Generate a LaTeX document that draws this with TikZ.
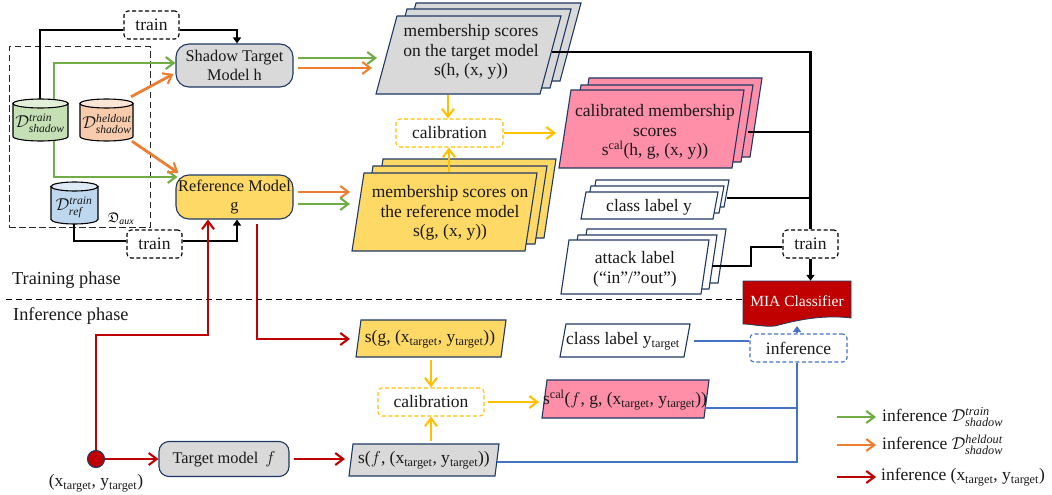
\documentclass[tikz,border=0pt]{standalone}
\usepackage{amssymb}
\usepackage{fontspec}
\setmainfont{Liberation Serif}
\usetikzlibrary{shapes.geometric,arrows.meta,calc}
\definecolor{edge}{HTML}{1F3864}
\definecolor{cgreen}{HTML}{70AD47}
\definecolor{corange}{HTML}{ED7D31}
\definecolor{cred}{HTML}{C00000}
\definecolor{cgold}{HTML}{FFC000}
\definecolor{cblue}{HTML}{4472C4}
\definecolor{fgrey}{HTML}{D9D9D9}
\definecolor{fyellow}{HTML}{FFD966}
\definecolor{fpink}{HTML}{FF8FA8}
\definecolor{cgb}{HTML}{C5E0B4}
\definecolor{cge}{HTML}{E2F0D9}
\definecolor{cob}{HTML}{F8CBAD}
\definecolor{coe}{HTML}{FBE5D6}
\definecolor{cbb}{HTML}{BDD7EE}
\definecolor{cbe}{HTML}{DEEBF7}
\tikzset{
  lbl/.style={inner sep=0pt,font=\fontsize{17.5}{19.8}\selectfont,align=center,text=black!90},
  mlbl/.style={inner sep=0pt,font=\fontsize{16.3}{18.5}\selectfont,align=center,text=black!90},
  mth/.style={inner sep=0pt,font=\fontsize{16.5}{18}\selectfont,text=black!90},
  wire/.style={line width=2.8pt,line cap=butt},
  tipo/.style={-{Straight Barb[length=8pt,width=12pt,line width=2.1pt]}},
  tipf/.style={-{Triangle[length=6pt,width=8pt]}},
  gw/.style={wire,cgreen,tipo},
  ow/.style={wire,corange,tipo},
  rw/.style={wire,cred,tipo},
  yw/.style={wire,cgold,tipo},
  kw/.style={wire,black},
  bw/.style={wire,cblue},
  modelbox/.style={draw=edge,line width=1.1pt,rounded corners=13pt},
  dbox/.style={draw=black,line width=1.1pt,dash pattern=on 4pt off 2.5pt,rounded corners=4pt,fill=white},
}
% \parall{TLx}{TRx}{BLx}{topy}{boty}{fill}
\newcommand{\parall}[6]{%
  \fill[#6,draw=edge,line width=1.1pt] (#1,#4)--(#2,#4)--({#2+#3-#1},#5)--(#3,#5)--cycle;}
% \dbcan{name}{cx}{cy}{w}{h}{body}{end}
\newcommand{\dbcan}[7]{%
  \node[minimum width=#4pt,minimum height=#5pt,inner sep=0pt] (#1) at (#2,#3) {};
  \fill[#6,draw=black,line width=1.1pt] ({#2-#4/2},{#3-#5/2+4.5}) -- ({#2-#4/2},{#3+#5/2-4.5})
     arc[start angle=180,end angle=0,x radius={#4/2},y radius=4.5] -- ({#2+#4/2},{#3-#5/2+4.5}) -- cycle;
  \fill[#7,draw=black,line width=1.1pt] (#2,{#3-#5/2+4.5}) ellipse[x radius={#4/2},y radius=4.5];}
\begin{document}
\begin{tikzpicture}[x=1pt,y=-1pt]
\useasboundingbox (0,0) rectangle (1052,495);
% aux
\node[draw=black!85,line width=1pt,dash pattern=on 6.5pt off 3.5pt,minimum width=141pt,minimum height=180pt,inner sep=0pt] (aux) at (79.5,137) {};
\node[inner sep=0pt,font=\fontsize{14}{15}\selectfont] (auxl) at (121,219) {$\mathfrak{D}_{\mathit{aux}}$};
% cylinders
\dbcan{cg}{40.5}{120}{55}{42}{cgb}{cge}
\dbcan{co}{106.5}{120}{53}{42}{cob}{coe}
\dbcan{cb}{74.5}{203}{47}{42}{cbb}{cbe}
\node[mth] (tg) at (40,123) {$\mathcal{D}^{\mathit{train}}_{\mathit{shadow}}$};
\node[mth] (to) at (107,124) {$\mathcal{D}^{\mathit{heldout}}_{\mathit{shadow}}$};
\node[mth] (tb) at (74,207) {$\mathcal{D}^{\mathit{train}}_{\mathit{ref}}$};
% models
\node[modelbox,fill=fgrey,minimum width=117pt,minimum height=43pt,mlbl] (sm) at (234.5,65.5) {Shadow Target\\Model h};
\node[modelbox,fill=fyellow,minimum width=117pt,minimum height=44pt,mlbl] (rm) at (234.5,197) {Reference Model\\g};
\node[modelbox,fill=fgrey,minimum width=130pt,minimum height=35pt,rounded corners=10pt,mlbl] (tm) at (224,459) {\raisebox{3pt}{Target model \,$f$}};
% train boxes
\node[dbox,minimum width=55pt,minimum height=28pt,lbl] (tr1) at (151.5,25) {train};
\node[dbox,minimum width=55pt,minimum height=28pt,lbl] (tr2) at (154.5,244) {train};
\node[dbox,minimum width=55pt,minimum height=28pt,lbl] (tr3) at (810.5,244) {train};
\node[dbox,draw=cgold,minimum width=107pt,minimum height=28pt,lbl] (cal1) at (449.5,133) {calibration};
\node[dbox,draw=cgold,minimum width=106pt,minimum height=28pt,lbl] (cal2) at (431,402) {calibration};
\node[dbox,draw=cblue,minimum width=97pt,minimum height=28pt,lbl] (inf) at (798.5,348) {inference};
% stacks
\parall{416}{581}{395}{3}{81}{fgrey}
\parall{407}{571}{386}{9}{88}{fgrey}
\parall{397}{561}{376}{16}{94}{fgrey}
\node[lbl,minimum width=164pt,minimum height=78pt] (ms) at (471,52) {membership scores\\on the target model\\s(h, (x, y))};
\parall{383}{556}{371}{159}{238}{fyellow}
\parall{373}{547}{361}{166}{244}{fyellow}
\parall{364}{537}{352}{173}{251}{fyellow}
\node[lbl,minimum width=173pt,minimum height=78pt] (mr) at (450,213) {membership scores on\\the reference model\\s(g, (x, y))};
\parall{589}{762}{577}{78}{157}{fpink}
\parall{581}{753}{569}{85}{162}{fpink}
\parall{571}{744}{559}{90}{168}{fpink}
\node[lbl,minimum width=173pt,minimum height=78pt] (mc) at (655,132) {calibrated membership\\scores\\s\textsuperscript{cal}(h, g, (x, y))};
\parall{596}{729}{591}{180}{207}{white}
\parall{591}{724}{586}{186}{213}{white}
\parall{586}{718}{581}{192}{219}{white}
\node[lbl,minimum width=132pt,minimum height=27pt] (cl) at (649,207) {class label y};
\parall{587}{726}{579}{229}{283}{white}
\parall{578}{717}{570}{235}{289}{white}
\parall{569}{709}{561}{240}{294}{white}
\node[lbl,minimum width=140pt,minimum height=54pt] (al) at (635,269) {attack label\\(“in”/”out”)};
\parall{566}{690}{560}{324}{357}{white}
\node[lbl,minimum width=124pt,minimum height=33pt] (cy) at (623,341) {class label y\textsubscript{target}};
\parall{361}{506}{356}{320}{357}{fyellow}
\node[lbl,minimum width=145pt,minimum height=37pt] (sg) at (430,339) {s(g, (x\textsubscript{target}, y\textsubscript{target}))};
\parall{547}{709}{542}{380}{418}{fpink}
\node[lbl,minimum width=162pt,minimum height=38pt] (sc) at (625,400) {s\textsuperscript{cal}($f$, g, (x\textsubscript{target}, y\textsubscript{target}))};
\parall{353}{499}{349}{444}{476}{fgrey}
\node[lbl,minimum width=146pt,minimum height=32pt] (sf) at (424,460) {s($f$, (x\textsubscript{target}, y\textsubscript{target}))};
% MIA
\fill[cred,draw=edge,line width=.8pt] (743,281) -- (851,281) -- (851,318) .. controls (820,314) and (790,322) .. (775,326) .. controls (762,327) and (752,324) .. (743,324) -- cycle;
\node[inner sep=0pt,text=white,font=\fontsize{15.5}{17}\selectfont,minimum width=108pt,minimum height=40pt] (mia) at (797,301) {MIA Classifier};
% phases
\coordinate (dl) at (6,299);
\draw[line width=1pt,dash pattern=on 6pt off 4pt] (dl) -- (mia.west |- dl);
\node[lbl,anchor=west,font=\fontsize{18.3}{20}\selectfont] (tp) at (12,280) {Training phase};
\node[lbl,anchor=west,font=\fontsize{18.3}{20}\selectfont] (ip) at (13,316) {Inference phase};
% point
\node[circle,fill=cred,draw=edge,line width=1.1pt,minimum size=17pt,inner sep=0pt] (pt) at (96,459) {};
\node[lbl] (ptl) at (96,483) {(x\textsubscript{target}, y\textsubscript{target})};
% black wires
\draw[kw] ([xshift=-.5pt]cg.north) |- ([yshift=-5pt]tr1.west);
\draw[kw,tipf] ([yshift=-5pt]tr1.east) -| ([xshift=2.5pt]sm.north);
\draw[kw] ([xshift=-.5pt]cb.south) |- ([yshift=3pt]tr2.west);
\draw[kw,tipf] ([yshift=3pt]tr2.east) -| ([xshift=2.5pt]rm.south);
\coordinate (k1) at (552,52); \coordinate (k2) at (748,132); \coordinate (k3) at (727,198); \coordinate (k4) at (712,266); \coordinate (k5) at (751,266);
\draw[kw] (k1) -| (tr3.north);
\draw[kw] (k2) -- (tr3.north |- k2);
\draw[kw] (k3) -- (tr3.north |- k3);
\draw[kw] (k4) -- (k5) |- ([yshift=-3pt]tr3.west);
\draw[kw,tipf] (tr3.south) -- (tr3.south |- mia.north);
% green/orange
\draw[gw] ([xshift=13.5pt]cg.north) |- ([yshift=2.5pt]sm.west);
\draw[ow] ([xshift=24.5pt,yshift=2pt]co.north) -- ([xshift=-2pt,yshift=-8.5pt]sm.west);
\draw[gw] ([xshift=13.5pt]cg.south) |- ([xshift=2pt,yshift=20pt]rm.west);
\draw[ow] ([xshift=25.5pt]co.south) -- ([xshift=3pt,yshift=24pt]rm.west);
\coordinate (g1) at (377,58); \coordinate (o1) at (372,68);
\draw[gw] ([xshift=4pt]sm.east |- g1) -- (g1);
\draw[ow] ([xshift=4pt]sm.east |- o1) -- (o1);
\coordinate (o2) at (350,192); \coordinate (g2) at (350,204);
\draw[ow] ([xshift=4pt]rm.east |- o2) -- (o2);
\draw[gw] ([xshift=4pt]rm.east |- g2) -- (g2);
% gold
\coordinate (y1) at (448,95); \coordinate (y2) at (449,172); \coordinate (y3) at (556,133);
\coordinate (y4) at (431,360); \coordinate (y5) at (431,441); \coordinate (y6) at (539,402);
\draw[yw] (y1) -- (y1 |- cal1.north);
\draw[yw] (y2) -- (y2 |- cal1.south);
\draw[yw] (cal1.east) -- (y3);
\draw[yw] (y4) -- (cal2.north);
\draw[yw] (y5) -- (cal2.south);
\draw[yw] ([xshift=3pt]cal2.east) -- (y6);
% red
\coordinate (r1) at (208,335); \coordinate (r2) at (257,224); \coordinate (r3) at (345,459); \coordinate (r4) at (350,339);
\draw[rw] (pt.north) |- (r1) -- ([xshift=-26.5pt]rm.south);
\draw[rw] (r2) |- (r4);
\draw[rw] (pt.east) -- (tm.west);
\draw[rw] ([xshift=4pt]tm.east) -- (r3);
% blue
\coordinate (b1) at (694,341); \coordinate (b2) at (705,408); \coordinate (b3) at (497,462); \coordinate (b4) at (797,462);
\draw[bw] (b1) -- (b1 -| inf.west);
\draw[bw,-{Triangle[length=6pt,width=8pt]}] ([xshift=-1.5pt]inf.north) -- (797,326);
\draw[bw] (b2) -- (b2 -| b4);
\draw[bw] (b3) -- (b4) -- (b4 |- inf.south);
% legend
\coordinate (l1) at (837,417); \coordinate (l2) at (837,445); \coordinate (l3) at (837,477);
\node[lbl,anchor=west] (t1) at (882,417) {inference $\mathcal{D}^{\mathit{train}}_{\mathit{shadow}}$};
\node[lbl,anchor=west] (t2) at (882,445) {inference $\mathcal{D}^{\mathit{heldout}}_{\mathit{shadow}}$};
\node[lbl,anchor=west] (t3) at (881,477) {inference (x\textsubscript{target}, y\textsubscript{target})};
\draw[gw] (l1) -- ++(39,0);
\draw[ow] (l2) -- ++(39,0);
\draw[rw] (l3) -- ++(39,0);
\end{tikzpicture}
\end{document}
